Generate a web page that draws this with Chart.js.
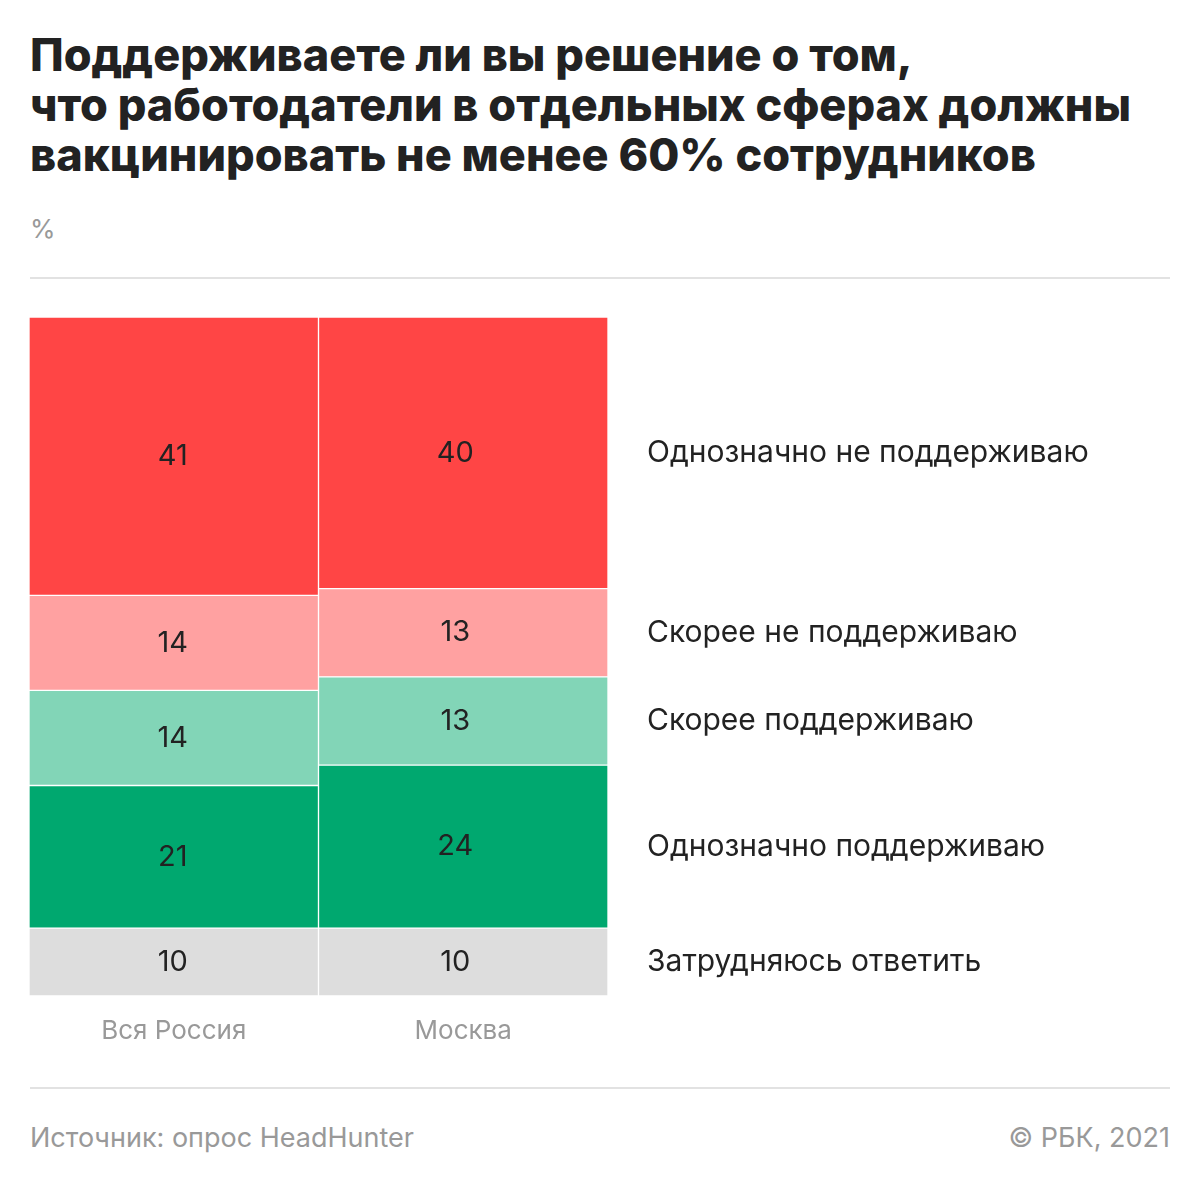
<!DOCTYPE html>
<html lang="ru">
<head>
    <meta charset="UTF-8">
    <title>Вакцинация сотрудников</title>
    <style>
        body {
            margin: 0;
            background: #ffffff;
            font-family: Inter, Roboto, sans-serif;
            width: 1200px;
            height: 1186px;
            position: relative;
            overflow: hidden;
        }
        .title {
            position: absolute;
            left: 30px;
            top: 30px;
            font-size: 45px;
            font-weight: 800;
            line-height: 50px;
            color: #222222;
            letter-spacing: 0;
            margin: 0;
        }
        .unit {
            position: absolute;
            left: 30px;
            top: 213px;
            font-size: 26px;
            color: #999999;
        }
        .rule {
            position: absolute;
            left: 30px;
            width: 1140px;
            height: 2px;
            background: #e2e2e2;
        }
        .foot {
            position: absolute;
            top: 1121px;
            font-size: 27px;
            color: #999999;
        }
        .chart-box {
            position: absolute;
            left: 0;
            top: 300px;
            width: 1200px;
            height: 770px;
        }
    </style>
</head>
<body>
    <h1 class="title">Поддерживаете ли вы решение о том,<br>что работодатели в отдельных сферах должны<br>вакцинировать не менее 60% сотрудников</h1>
    <div class="unit">%</div>
    <div class="rule" style="top: 277px;"></div>
    <div class="chart-box"><canvas id="chart"></canvas></div>
    <div class="rule" style="top: 1087px;"></div>
    <div class="foot" style="left: 30px;">Источник: опрос HeadHunter</div>
    <div class="foot" style="right: 30px;">© РБК, 2021</div>

    <script src="https://cdn.jsdelivr.net/npm/chart.js"></script>
    <script>
        // answers from bottom of the stack to the top
        const regions = ["Вся Россия", "Москва"];
        const answers = ["Затрудняюсь ответить", "Однозначно поддерживаю", "Скорее поддерживаю", "Скорее не поддерживаю", "Однозначно не поддерживаю"];
        const hardToSay = [10, 10];
        const surelyYes = [21, 24];
        const ratherYes = [14, 13];
        const ratherNo = [14, 13];
        const surelyNo = [41, 40];
        const colors = ['#dddddd', '#00a86f', '#82d5b7', '#ffa1a1', '#ff4545'];

        const series = [hardToSay, surelyYes, ratherYes, ratherNo, surelyNo];

        // numbers inside segments + answer names to the right of Moscow column
        const labelsPlugin = {
            id: 'segmentLabels',
            afterDatasetsDraw(chart) {
                const ctx = chart.ctx;
                ctx.save();
                ctx.fillStyle = '#222222';
                ctx.textBaseline = 'middle';
                chart.data.datasets.forEach((ds, i) => {
                    const meta = chart.getDatasetMeta(i);
                    meta.data.forEach((bar, j) => {
                        const mid = (bar.y + bar.base) / 2;
                        ctx.font = '29px Inter, Roboto, sans-serif';
                        ctx.textAlign = 'center';
                        ctx.fillText(ds.data[j], bar.x - (j === 1 ? 8 : 1), mid);
                        if (j === regions.length - 1) {
                            ctx.font = '30px Inter, Roboto, sans-serif';
                            ctx.textAlign = 'left';
                            ctx.fillText(ds.label, 647, mid);
                        }
                    });
                });
                ctx.restore();
            }
        };

        const ctx = document.getElementById('chart').getContext('2d');
        const chart = new Chart(ctx, {
            type: 'bar',
            data: {
                labels: regions,
                datasets: series.map((d, i) => ({
                    label: answers[i],
                    data: d,
                    backgroundColor: colors[i],
                    borderColor: '#ffffff',
                    borderWidth: 1,
                    borderSkipped: false,
                    barPercentage: 1,
                    categoryPercentage: 1
                }))
            },
            options: {
                responsive: true,
                maintainAspectRatio: false,
                animation: false,
                layout: {
                    padding: { left: 29, right: 592, top: 17, bottom: 0 }
                },
                plugins: {
                    legend: { display: false },
                    tooltip: { enabled: false }
                },
                scales: {
                    x: {
                        stacked: true,
                        grid: { display: false, drawTicks: false },
                        border: { display: false },
                        ticks: {
                            color: '#999999',
                            font: { family: 'Inter, Roboto, sans-serif', size: 26 },
                            padding: 20
                        },
                        afterFit(axis) { axis.height = 74; }
                    },
                    y: {
                        stacked: true,
                        min: 0,
                        max: 100,
                        display: false
                    }
                }
            },
            plugins: [labelsPlugin]
        });
    </script>
</body>
</html>
